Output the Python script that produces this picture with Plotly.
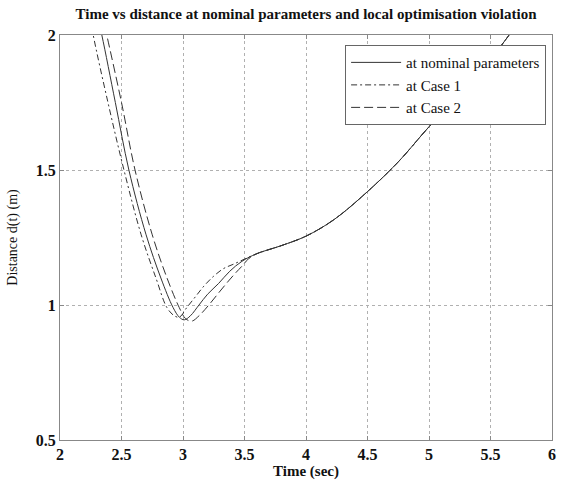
import plotly.graph_objects as go

# Nominal parameters
nom_t = [2.30, 2.34, 2.45, 2.56, 2.70, 2.82, 2.92, 2.97, 3.01, 3.06, 3.13, 3.20, 3.29, 3.38, 3.48,
         3.60, 3.80, 4.00, 4.23, 4.50, 4.75, 5.00, 5.25, 5.50, 5.70]
nom_d = [2.08, 2.00, 1.75, 1.50, 1.26, 1.10, 0.99, 0.955, 0.945, 0.96, 1.00, 1.04, 1.08, 1.125, 1.162,
         1.19, 1.22, 1.255, 1.317, 1.42, 1.53, 1.66, 1.78, 1.91, 2.03]

# Case 1
c1_t = [2.24, 2.27, 2.39, 2.52, 2.66, 2.78, 2.87, 2.93, 2.97, 3.03, 3.10, 3.17, 3.25, 3.33, 3.41,
        3.50, 3.60, 3.80, 4.00, 4.23, 4.50, 4.75, 5.00, 5.25, 5.50, 5.70]
c1_d = [2.08, 2.00, 1.75, 1.50, 1.26, 1.10, 0.99, 0.96, 0.955, 0.99, 1.03, 1.07, 1.107, 1.135, 1.151,
        1.17, 1.19, 1.22, 1.255, 1.317, 1.42, 1.53, 1.66, 1.78, 1.91, 2.03]

# Case 2
c2_t = [2.34, 2.38, 2.50, 2.61, 2.75, 2.87, 2.97, 3.02, 3.07, 3.13, 3.21, 3.29, 3.37, 3.43, 3.48,
        3.53, 3.60, 3.80, 4.00, 4.23, 4.50, 4.75, 5.00, 5.25, 5.50, 5.70]
c2_d = [2.08, 2.00, 1.75, 1.50, 1.26, 1.10, 0.99, 0.95, 0.94, 0.96, 1.00, 1.045, 1.089, 1.12, 1.144,
        1.17, 1.19, 1.22, 1.255, 1.317, 1.42, 1.53, 1.66, 1.78, 1.91, 2.03]

x_ticks = [2, 2.5, 3, 3.5, 4, 4.5, 5, 5.5, 6]
y_ticks = [0.5, 1, 1.5, 2]

SERIF = "Liberation Serif, Times New Roman, serif"
LINE = "#333333"

fig = go.Figure()
fig.add_trace(go.Scatter(x=nom_t, y=nom_d, mode="lines", name="at nominal parameters",
                         line=dict(color=LINE, width=1, shape="spline")))
fig.add_trace(go.Scatter(x=c1_t, y=c1_d, mode="lines", name="at Case 1",
                         line=dict(color=LINE, width=1, dash="6px,3px,2px,3px", shape="spline")))
fig.add_trace(go.Scatter(x=c2_t, y=c2_d, mode="lines", name="at Case 2",
                         line=dict(color=LINE, width=1, dash="9px,4px", shape="spline")))

axis_common = dict(
    showline=True, linecolor="#888888", linewidth=1, mirror="ticks",
    ticks="inside", ticklen=4, tickcolor="#888888",
    showgrid=True, gridcolor="#b0b0b0", griddash="dot", gridwidth=1,
    zeroline=False,
    tickfont=dict(family=SERIF, size=16, color="#111111", weight="bold"),
)

fig.update_layout(
    width=561, height=480,
    margin=dict(l=60, r=5, t=35, b=38),
    paper_bgcolor="white", plot_bgcolor="white",
    title=dict(text="Time vs distance at nominal parameters and local optimisation violation",
               font=dict(family=SERIF, size=15, color="#111111", weight="bold"),
               x=0.5, xref="paper", xanchor="center",
               y=1 - 14 / 480, yref="container", yanchor="middle"),
    xaxis=dict(range=[2, 6], tickvals=x_ticks, ticktext=[f"{v:g}" for v in x_ticks],
               title=dict(text="Time (sec)", standoff=1,
                          font=dict(family=SERIF, size=15, color="#111111", weight="bold")),
               **axis_common),
    yaxis=dict(range=[0.5, 2], tickvals=y_ticks, ticktext=[f"{v:g}" for v in y_ticks],
               title=dict(text="Distance d(t) (m)", standoff=14,
                          font=dict(family=SERIF, size=14, color="#111111")),
               **axis_common),
    legend=dict(x=0.988, y=0.975, xanchor="right", yanchor="top",
                bgcolor="white", bordercolor="#666666", borderwidth=1,
                font=dict(family=SERIF, size=15, color="#111111"),
                itemwidth=50, tracegroupgap=0),
    showlegend=True,
)

fig.write_html("out.html")
